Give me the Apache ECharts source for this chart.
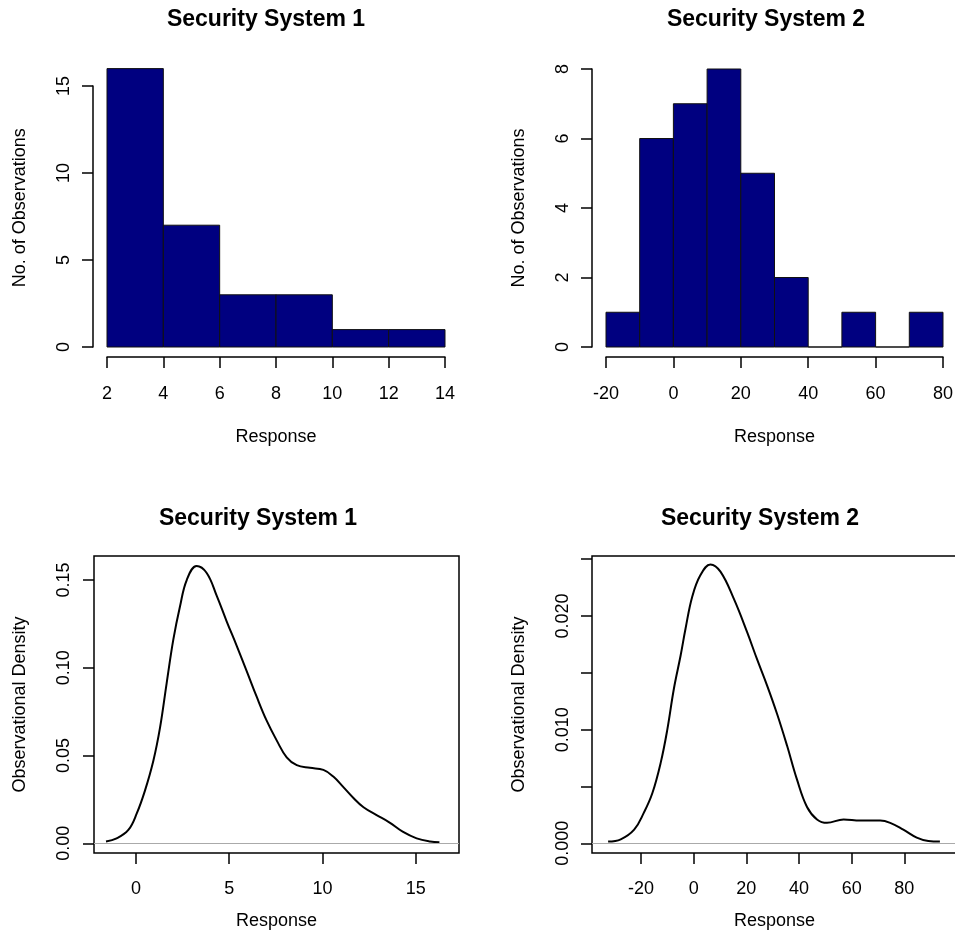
<!DOCTYPE html>
<html><head><meta charset="utf-8">
<script src="https://cdn.jsdelivr.net/npm/echarts@6/dist/echarts.min.js"></script>
<style>html,body{margin:0;padding:0;background:#fff}#c{width:955px;height:934px}</style>
</head><body><div id="c"></div>
<script>
const FONT = '"Liberation Sans", Arial, Helvetica, sans-serif';

// ---- data ----
const hist1Edges = [2, 4, 6, 8, 10, 12, 14];
const hist1Counts = [16, 7, 3, 3, 1, 1];
const hist2Edges = [-20, -10, 0, 10, 20, 30, 40, 50, 60, 70, 80];
const hist2Counts = [1, 6, 7, 8, 5, 2, 0, 1, 0, 1];

const dens1X = [-1.61,-1.04,-0.41,0.04,0.48,0.93,1.29,1.64,2.0,2.36,2.72,3.25,3.79,4.33,4.86,5.4,5.94,6.47,7.0,7.55,8.08,8.62,9.33,10.05,10.58,11.12,11.66,12.2,12.9,13.6,14.3,15.05,15.77,16.27];
const dens1Y = [0.001,0.0028,0.0076,0.017,0.030,0.047,0.066,0.091,0.116,0.135,0.150,0.158,0.154,0.141,0.1265,0.1125,0.098,0.0835,0.070,0.0585,0.049,0.0445,0.043,0.0418,0.038,0.032,0.0258,0.0205,0.0161,0.0118,0.0066,0.0028,0.001,0.0006];

const dens2X = [-32.6,-27.8,-22.7,-19.0,-15.8,-12.6,-10.1,-7.6,-5.06,-3.16,-0.63,2.5,6.3,10.1,15.2,20.2,24.0,27.8,31.6,35.4,39.2,43.0,46.8,50.6,56.9,63.2,70.8,74.6,79.6,84.7,89.1,93.5];
const dens2Y = [0.00015,0.00035,0.0012,0.0027,0.0044,0.0071,0.0100,0.0136,0.0165,0.0189,0.0217,0.0236,0.02454,0.0239,0.0215,0.0186,0.0162,0.0139,0.0114,0.0086,0.0056,0.0032,0.0021,0.0018,0.0021,0.0020,0.0020,0.0018,0.0012,0.0005,0.0002,0.00015];

const titles = ['Security System 1', 'Security System 2', 'Security System 1', 'Security System 2'];
const xLabel = 'Response';
const yLabelHist = 'No. of Observations';
const yLabelDens = 'Observational Density';

// ---- helpers ----
function histData(edges, counts) {
  return counts.map((c, i) => [edges[i], edges[i + 1], c]);
}
function pairs(xs, ys) { return xs.map((x, i) => [x, ys[i]]); }

function renderBar(params, api) {
  const p0 = api.coord([api.value(0), api.value(2)]);
  const p1 = api.coord([api.value(1), 0]);
  return {
    type: 'rect',
    shape: { x: p0[0], y: p0[1], width: p1[0] - p0[0], height: p1[1] - p0[1] },
    style: { fill: '#000080', stroke: '#111', lineWidth: 1 }
  };
}

const lineStyle = { color: '#000', width: 1.5 };
const axLine = { show: true, onZero: false, lineStyle: lineStyle };
const noLine = { show: false, onZero: false };
const tickStyle = { show: true, length: 11, inside: false, lineStyle: { color: '#000', width: 1.5 } };
const labelStyle = { color: '#000', fontSize: 18, fontFamily: FONT };
const nameStyle = { color: '#000', fontSize: 18, fontFamily: FONT };
const titleStyle = { fontSize: 23, fontWeight: 'bold', fontFamily: FONT, color: '#000' };
const hidden = { show: false };

function hiddenAxis(grid) {
  return { type: 'value', gridIndex: grid, show: false, min: 0, max: 1, axisLine: noLine, splitLine: hidden };
}
function nameOnlyAxis(grid, min, max, name, gap) {
  return {
    type: 'value', gridIndex: grid, min: min, max: max,
    axisLine: noLine, axisTick: hidden, axisLabel: hidden, splitLine: hidden,
    name: name, nameLocation: 'middle', nameGap: gap, nameTextStyle: nameStyle
  };
}
function g(o) { return Object.assign({ outerBoundsMode: 'none', containLabel: false }, o); }

const chart = echarts.init(document.getElementById('c'), null, { renderer: 'canvas' });

const option = {
  animation: false,
  backgroundColor: '#fff',
  title: [
    { text: titles[0], left: 261, top: 3, textAlign: 'center', textStyle: titleStyle },
    { text: titles[1], left: 761, top: 3, textAlign: 'center', textStyle: titleStyle },
    { text: titles[2], left: 253, top: 502, textAlign: 'center', textStyle: titleStyle },
    { text: titles[3], left: 755, top: 502, textAlign: 'center', textStyle: titleStyle }
  ],
  grid: [
    g({ left: 107, top: 68.6, width: 338, height: 278.4 }),                 // 0 hist1 main
    g({ left: 93, top: 86, width: 10, height: 261 }),                       // 1 hist1 y axis
    g({ left: 606, top: 69, width: 337, height: 278 }),                     // 2 hist2 main
    g({ left: 94, top: 556, width: 365, height: 297, show: true, borderColor: '#000', borderWidth: 1.5, backgroundColor: 'transparent' }), // 3 dens1 box
    g({ left: 136, top: 556, width: 279.7, height: 297 }),                  // 4 dens1 x ticks
    g({ left: 94, top: 580, width: 365, height: 263.3 }),                   // 5 dens1 y ticks
    g({ left: 592, top: 556, width: 365, height: 297, show: true, borderColor: '#000', borderWidth: 1.5, backgroundColor: 'transparent' }), // 6 dens2 box
    g({ left: 641, top: 556, width: 263.3, height: 297 }),                  // 7 dens2 x ticks
    g({ left: 592, top: 559.2, width: 365, height: 284.1 })                 // 8 dens2 y ticks
  ],
  xAxis: [
    { type: 'value', gridIndex: 0, min: 2, max: 14, interval: 2, offset: 10,
      axisLine: axLine, axisTick: tickStyle, splitLine: hidden,
      axisLabel: Object.assign({ margin: 28 }, labelStyle),
      name: xLabel, nameLocation: 'middle', nameGap: 71, nameTextStyle: nameStyle },
    hiddenAxis(1),
    { type: 'value', gridIndex: 2, min: -20, max: 80, interval: 20, offset: 10,
      axisLine: axLine, axisTick: tickStyle, splitLine: hidden,
      axisLabel: Object.assign({ margin: 28 }, labelStyle),
      name: xLabel, nameLocation: 'middle', nameGap: 71, nameTextStyle: nameStyle },
    nameOnlyAxis(3, -2.253, 17.32, xLabel, 59),
    { type: 'value', gridIndex: 4, min: 0, max: 15, interval: 5,
      axisLine: noLine, axisTick: tickStyle, splitLine: hidden,
      axisLabel: Object.assign({ margin: 27 }, labelStyle) },
    hiddenAxis(5),
    nameOnlyAxis(6, -38.72, 100, xLabel, 59),
    { type: 'value', gridIndex: 7, min: -20, max: 80, interval: 20,
      axisLine: noLine, axisTick: tickStyle, splitLine: hidden,
      axisLabel: Object.assign({ margin: 27 }, labelStyle) },
    hiddenAxis(8)
  ],
  yAxis: [
    nameOnlyAxis(0, 0, 16, yLabelHist, 78),
    { type: 'value', gridIndex: 1, min: 0, max: 15, interval: 5,
      axisLine: axLine, axisTick: tickStyle, splitLine: hidden,
      axisLabel: Object.assign({ margin: 20, rotate: 90 }, labelStyle) },
    { type: 'value', gridIndex: 2, min: 0, max: 8, interval: 2, offset: 14,
      axisLine: axLine, axisTick: tickStyle, splitLine: hidden,
      axisLabel: Object.assign({ margin: 20, rotate: 90 }, labelStyle),
      name: yLabelHist, nameLocation: 'middle', nameGap: 64, nameTextStyle: nameStyle },
    nameOnlyAxis(3, -0.00553, 0.16368, yLabelDens, 65),
    hiddenAxis(4),
    { type: 'value', gridIndex: 5, min: 0, max: 0.15, interval: 0.05,
      axisLine: noLine, axisTick: tickStyle, splitLine: hidden,
      axisLabel: Object.assign({ margin: 21, rotate: 90, formatter: v => v.toFixed(2) }, labelStyle) },
    nameOnlyAxis(6, -0.000853, 0.02528, yLabelDens, 64),
    hiddenAxis(7),
    { type: 'value', gridIndex: 8, min: 0, max: 0.025, interval: 0.005,
      axisLine: noLine, axisTick: tickStyle, splitLine: hidden,
      axisLabel: Object.assign({ margin: 20, rotate: 90,
        formatter: v => (Math.round(v * 1000) % 10 === 0 ? v.toFixed(3) : '') }, labelStyle) }
  ],
  series: [
    { type: 'custom', xAxisIndex: 0, yAxisIndex: 0, renderItem: renderBar,
      encode: { x: [0, 1], y: 2 }, data: histData(hist1Edges, hist1Counts) },
    { type: 'custom', xAxisIndex: 2, yAxisIndex: 2, renderItem: renderBar,
      encode: { x: [0, 1], y: 2 }, data: histData(hist2Edges, hist2Counts) },
    { type: 'line', xAxisIndex: 3, yAxisIndex: 3, data: pairs(dens1X, dens1Y),
      smooth: 0.4, showSymbol: false, lineStyle: { color: '#000', width: 2 },
      markLine: { silent: true, symbol: ['none', 'none'], label: hidden,
        lineStyle: { color: '#aaa', width: 1, type: 'solid' }, data: [{ yAxis: 0 }] } },
    { type: 'line', xAxisIndex: 6, yAxisIndex: 6, data: pairs(dens2X, dens2Y),
      smooth: 0.4, showSymbol: false, lineStyle: { color: '#000', width: 2 },
      markLine: { silent: true, symbol: ['none', 'none'], label: hidden,
        lineStyle: { color: '#aaa', width: 1, type: 'solid' }, data: [{ yAxis: 0 }] } }
  ]
};
chart.setOption(option);
</script>
</body></html>
